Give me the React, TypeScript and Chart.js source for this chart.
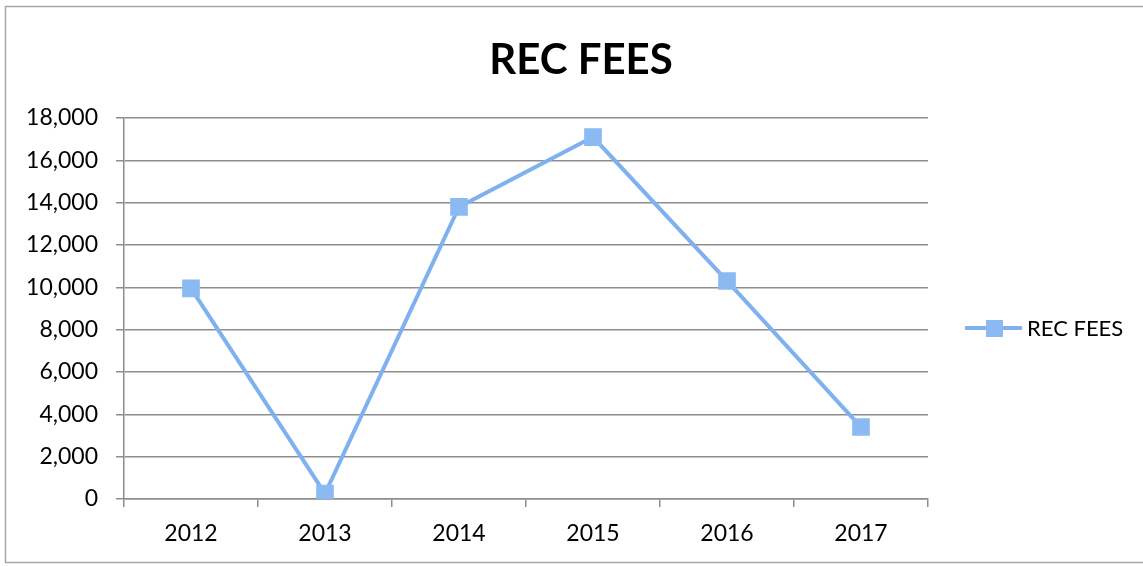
import React, { useEffect, useRef } from "react";
import { Chart, registerables } from "chart.js";

Chart.register(...registerables);

const categories = ["2012", "2013", "2014", "2015", "2016", "2017"];
const recFees = [9950, 250, 13800, 17100, 10300, 3400];
const seriesLabel = "REC FEES";
const chartTitle = "REC FEES";
const yMin = 0;
const yMax = 18000;
const yStep = 2000;

const FONT = "Lato, 'Open Sans', sans-serif";
const LINE_COLOR = "#7fb1ee";
const POINT_COLOR = "#8bbaf2";
const GRID_COLOR = "#8e8e8e";

const decorPlugin = {
  id: "decor",
  afterDraw(chart: any) {
    const ctx = chart.ctx;
    ctx.save();
    // outer frame
    ctx.strokeStyle = "#a6a6a6";
    ctx.lineWidth = 1.5;
    ctx.strokeRect(5.5, 6.5, chart.width - 4, chart.height - 10);
    // title
    ctx.fillStyle = "#000";
    ctx.font = `bold 42px ${FONT}`;
    ctx.textAlign = "center";
    ctx.textBaseline = "middle";
    ctx.fillText(chartTitle, 581, 60);
    // legend
    const ds = chart.data.datasets[0];
    const ly = 328;
    ctx.strokeStyle = LINE_COLOR;
    ctx.lineWidth = 4;
    ctx.beginPath();
    ctx.moveTo(965, ly);
    ctx.lineTo(1022, ly);
    ctx.stroke();
    ctx.fillStyle = POINT_COLOR;
    ctx.fillRect(986, ly - 8, 17, 17);
    ctx.fillStyle = "#000";
    ctx.font = `22px ${FONT}`;
    ctx.textAlign = "left";
    ctx.fillText(ds.label, 1027, ly + 1);
    ctx.restore();
  },
};

export default function App() {
  const ref = useRef<HTMLCanvasElement | null>(null);
  useEffect(() => {
    if (!ref.current) return;
    const chart = new Chart(ref.current, {
      type: "line",
      data: {
        labels: categories,
        datasets: [
          {
            label: seriesLabel,
            data: recFees,
            borderColor: LINE_COLOR,
            backgroundColor: POINT_COLOR,
            borderWidth: 4,
            pointStyle: "rect",
            pointRadius: 12.5,
            pointBorderWidth: 0,
            pointBackgroundColor: POINT_COLOR,
            tension: 0,
          },
        ],
      },
      options: {
        animation: false,
        responsive: false,
        layout: { padding: { top: 118, right: 215, left: 0, bottom: 0 } },
        plugins: {
          legend: { display: false },
          title: { display: false },
          tooltip: { enabled: false },
        },
        scales: {
          x: {
            offset: true,
            grid: {
              offset: true,
              drawOnChartArea: false,
              drawTicks: true,
              tickLength: 8,
              color: GRID_COLOR,
              lineWidth: 1.5,
            },
            border: { display: true, color: GRID_COLOR, width: 1.5 },
            ticks: {
              color: "#000",
              font: { family: FONT, size: 23 },
              padding: 13,
            },
            afterFit(scale: any) {
              scale.height = 67;
            },
          },
          y: {
            min: yMin,
            max: yMax,
            ticks: {
              stepSize: yStep,
              color: "#000",
              font: { family: FONT, size: 23 },
              padding: 18,
            },
            grid: {
              color: GRID_COLOR,
              lineWidth: 1.5,
              tickLength: 8,
            },
            border: { display: true, color: GRID_COLOR, width: 1.5 },
            afterFit(scale: any) {
              scale.width = 124;
            },
          },
        },
      },
      plugins: [decorPlugin],
    });
    return () => chart.destroy();
  }, []);
  return (
    <div style={{ position: "fixed", left: 0, top: 0, width: 1143, height: 566, background: "#fff" }}>
      <canvas ref={ref} width={1143} height={566} style={{ display: "block" }} />
    </div>
  );
}
